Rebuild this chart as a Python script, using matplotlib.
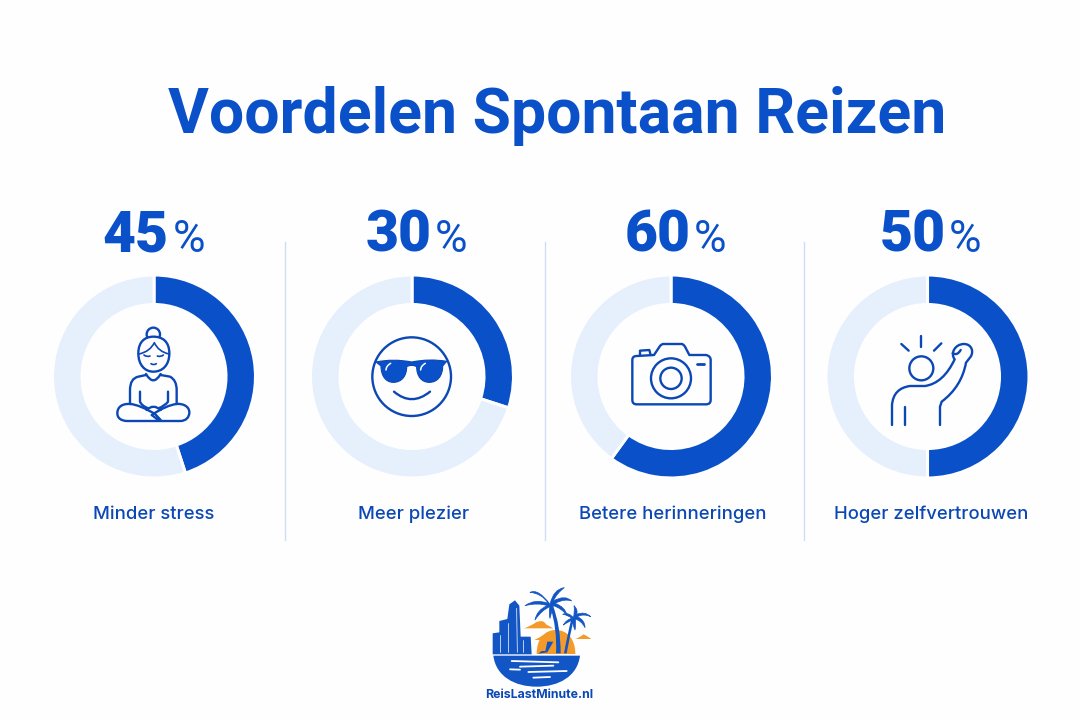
import re
import matplotlib
matplotlib.use("Agg")
import matplotlib.pyplot as plt
from matplotlib.path import Path
from matplotlib.patches import PathPatch, Circle

# ---- data ----
title_text = "Voordelen Spontaan Reizen"
labels = ["Minder stress", "Meer plezier", "Betere herinneringen", "Hoger zelfvertrouwen"]
values = [45, 30, 60, 50]
logo_text = "ReisLastMinute.nl"

# ---- layout / style ----
centers_x = [154, 412, 671, 927.5]
digit_right = [168.5, 431.5, 690.5, 945.5]
pct_left = [173, 435, 694, 949]
label_x = [153.5, 414, 673, 931.5]
divider_x = [285, 545, 804]
BLUE = "#0A50C9"
DARK = "#0B47B5"
LIGHT = "#E6EFFC"
BG = "#FEFEFE"

fig = plt.figure(figsize=(10.8, 7.2), dpi=100, facecolor=BG)
ax = fig.add_axes([0, 0, 1, 1])


def svg(d):
    verts, codes = [], []
    for cmd, args in re.findall(r"([MLQCZ])([^MLQCZ]*)", d):
        n = [float(v) for v in args.split()]
        pts = list(zip(n[0::2], n[1::2]))
        if cmd == "M":
            verts += pts; codes += [Path.MOVETO] + [Path.LINETO] * (len(pts) - 1)
        elif cmd == "L":
            verts += pts; codes += [Path.LINETO] * len(pts)
        elif cmd == "Q":
            verts += pts; codes += [Path.CURVE3] * len(pts)
        elif cmd == "C":
            verts += pts; codes += [Path.CURVE4] * len(pts)
        else:
            verts.append(verts[-1]); codes.append(Path.CLOSEPOLY)
    return verts, codes


def shape(d, ox, oy, s=1 / 3, fill="none", lw=1.7, color=DARK, z=5):
    v, c = svg(d)
    v = [(ox + x * s, oy + y * s) for x, y in v]
    ax.add_patch(PathPatch(Path(v, c), facecolor=fill, edgecolor=color if lw else "none",
                           lw=lw, capstyle="round", joinstyle="round", zorder=z))


def ring(cx, cy, r, ox=0, oy=0, s=1 / 3, lw=1.7, color=DARK, fill="none", z=5):
    ax.add_patch(Circle((ox + cx * s, oy + cy * s), r * s, facecolor=fill,
                        edgecolor=color if lw else "none", lw=lw, zorder=z))


# ---- donuts ----
for cx, v in zip(centers_x, values):
    ax.pie([v, 100 - v], colors=[BLUE, LIGHT], startangle=-90, counterclock=True,
           center=(cx, 376.5), radius=101.5,
           wedgeprops=dict(width=29.5, edgecolor=BG, linewidth=2.2))

ax.set_xlim(0, 1080)
ax.set_ylim(720, 0)
ax.set_aspect("auto")
ax.axis("off")

# ---- text ----
ax.text(557, 133, title_text, ha="center", va="baseline", color=BLUE,
        fontsize=45, fontweight="bold", family="Roboto")
for v, dr, pl in zip(values, digit_right, pct_left):
    ax.text(dr, 252, str(v), ha="right", va="baseline", color=BLUE,
            fontsize=41, fontweight="black", family="Roboto")
    ax.text(pl, 252, "%", ha="left", va="baseline", color=BLUE,
            fontsize=32, fontweight="regular", family="Roboto")
for lab, x in zip(labels, label_x):
    ax.text(x, 519, lab, ha="center", va="baseline", color=DARK,
            fontsize=13.3, fontweight="medium", family="Inter")
for x in divider_x:
    ax.plot([x, x], [242, 540], color="#CFDFF3", lw=1, zorder=1)

# ---- icon: meditation ----
ox, oy = 40, 200
ring(340, 403, 20, ox, oy)
shape("M 295 460 C 295 425 315 410 340 410 C 368 410 388 425 388 460 C 388 495 368 515 340 515 C 315 515 295 495 295 460 Z",
      ox, oy, fill=BG, z=6)
for d in ["M 297 462 Q 330 455 343 428 Q 355 455 387 462",
          "M 312 465 Q 320 472 330 468", "M 352 468 Q 362 472 370 465",
          "M 333 491 Q 341 497 349 491"]:
    shape(d, ox, oy, lw=1.2, z=7)
for d in ["M 318 522 Q 340 560 362 522",
          "M 318 525 L 295 530 Q 270 535 270 570 L 270 612",
          "M 362 525 L 390 530 Q 410 540 410 570 L 410 612",
          "M 300 575 L 300 605 Q 305 618 325 625",
          "M 384 575 L 384 605 Q 375 618 355 625",
          "M 272 612 C 245 610 232 622 232 640 C 232 655 245 663 262 663 L 420 663 C 438 663 448 652 448 637 C 448 620 430 610 410 612 Q 380 615 335 645 L 355 660",
          "M 272 612 Q 300 615 345 642 L 362 660",
          "M 320 630 Q 340 610 362 630"]:
    shape(d, ox, oy)

# ---- icon: sunglasses ----
ox, oy = 300, 270
ring(335, 320, 118, ox, oy)
shape("M 228 276 Q 280 265 335 276 Q 390 265 440 274 L 428 288 C 428 318 412 337 388 337 C 364 337 350 318 350 290 Q 335 282 320 290 C 320 318 305 337 280 337 C 258 337 243 318 243 288 Z",
      ox, oy, fill=BLUE, lw=0.8)
shape("M 258 300 Q 258 288 272 280", ox, oy, lw=1.1, color="white", z=6)
shape("M 362 300 Q 362 288 376 280", ox, oy, lw=1.1, color="white", z=6)
shape("M 282 365 Q 335 410 390 365", ox, oy)

# ---- icon: camera ----
shape("M 997 270 Q 997 258 1010 258 L 1062 255 L 1080 228 Q 1085 222 1090 222 L 1145 222 Q 1150 222 1155 230 L 1168 255 L 1218 255 Q 1232 258 1232 270 L 1232 390 Q 1232 403 1218 403 L 1010 403 Q 997 403 997 390 Z", ox, oy)
ring(1113, 325, 60, ox, oy)
ring(1113, 325, 32, ox, oy)
shape("M 1020 255 L 1020 242 L 1048 240 L 1052 255", ox, oy)
shape("M 1190 282 L 1211 282", ox, oy, lw=2)

# ---- icon: cheering person ----
ox, oy = 860, 320
ring(184, 145, 36, ox, oy)
for d in ["M 184 48 L 184 80", "M 124 72 L 146 92", "M 244 70 L 222 92",
          "M 96 315 L 96 255 Q 100 205 150 198 L 195 198 Q 250 190 284 118 C 270 100 285 72 312 72 C 335 72 342 95 332 110 L 318 128 Q 305 200 245 245 L 240 260 L 240 315",
          "M 136 260 L 136 315", "M 278 100 Q 292 108 302 90"]:
    shape(d, ox, oy)

# ---- logo ----
ox, oy = 470, 575
ORANGE = "#F39A2B"
LOGO = "#1255C4"
shape("M 200 237 C 200 190 225 165 257 165 C 290 165 316 190 316 237 Z", ox, oy, fill=ORANGE, lw=0, z=3)
for d in ["M 162 160 Q 185 152 198 142 Q 220 132 228 148 L 250 160 Z",
          "M 315 192 Q 330 188 340 178 Q 350 182 364 192 Z",
          "M 193 195 Q 205 190 220 180 L 232 195 Z"]:
    shape(d, ox, oy, fill=ORANGE, lw=0, z=3)
shape("M 70 242 L 330 242 C 322 305 265 335 200 335 C 135 335 78 305 70 242 Z", ox, oy, fill=LOGO, lw=0, z=4)
for d in ["M 125 258 L 265 262", "M 150 275 L 250 272", "M 175 291 L 290 288", "M 120 283 L 150 284", "M 190 308 L 240 306"]:
    shape(d, ox, oy, lw=1.3, color="white", z=5)
# towers
shape("M 68 238 L 68 175 L 88 172 L 88 138 L 112 132 L 118 88 L 135 76 L 148 92 L 152 185 L 182 185 L 185 238 Z",
      ox, oy, fill=LOGO, lw=0, z=4)
for d in ["M 113 145 L 113 232", "M 140 100 L 142 232", "M 90 180 L 90 232", "M 160 195 L 160 232"]:
    shape(d, ox, oy, lw=0.5, color="white", z=5)
# palms
shape("M 248 90 Q 272 150 272 235 L 258 235 Q 262 160 240 92 Z", ox, oy, fill=LOGO, lw=0, z=5)
shape("M 240 88 Q 205 40 180 52 Q 215 55 235 85 Q 195 70 165 92 Q 205 82 232 92 Q 200 105 195 135 Q 215 105 240 95 Q 235 115 240 130 Q 245 110 250 92 Q 275 100 292 122 Q 285 95 255 85 Q 285 70 305 78 Q 285 58 250 78 Q 260 55 283 38 Q 250 42 240 88 Z",
      ox, oy, fill=LOGO, lw=0.5, color=LOGO, z=5)
shape("M 312 130 Q 300 180 290 235 L 282 235 Q 292 180 304 132 Z", ox, oy, fill=LOGO, lw=0, z=5)
shape("M 310 128 Q 295 110 278 118 Q 295 120 305 130 Q 288 135 280 150 Q 295 140 308 135 Q 308 150 315 165 Q 318 148 316 132 Q 335 138 345 158 Q 345 135 322 125 Q 340 115 362 125 Q 345 108 320 118 Q 325 105 312 92 Q 315 110 310 128 Z",
      ox, oy, fill=LOGO, lw=0.5, color=LOGO, z=5)
# deck chair
shape("M 232 200 L 250 200 L 232 232 L 205 236 L 215 228 L 226 228 Z", ox, oy, fill=LOGO, lw=0, z=5)
ax.text(ox + 207 / 3, 695, logo_text, ha="center", va="center", color=DARK,
        fontsize=8.9, fontweight="bold", family="Inter")

fig.savefig("out.png", dpi=100, facecolor=BG)
